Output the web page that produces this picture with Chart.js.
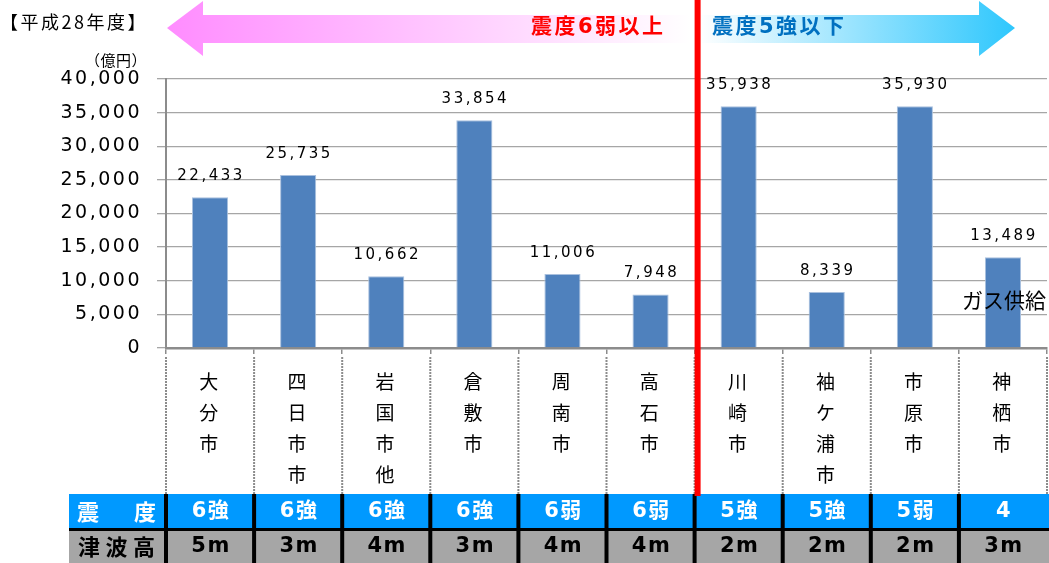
<!DOCTYPE html>
<html lang="ja">
<head>
<meta charset="utf-8">
<title>震度・津波高別 製造品出荷額</title>
<script src="https://cdn.jsdelivr.net/npm/chart.js@4.4.0/dist/chart.umd.min.js"></script>
<style>
  html, body { margin: 0; padding: 0; background: #fff; }
  .wrap { position: relative; width: 1049px; height: 563px; }
</style>
</head>
<body>
<div class="wrap"><canvas id="chart"></canvas></div>
<script>
// データ
const cities = ['大分市', '四日市市', '岩国市他', '倉敷市', '周南市', '高石市', '川崎市', '袖ケ浦市', '市原市', '神栖市'];
const amounts = [22433, 25735, 10662, 33854, 11006, 7948, 35938, 8339, 35930, 13489];
const shindo = ['6強', '6強', '6強', '6強', '6弱', '6弱', '5強', '5強', '5弱', '4'];
const tsunami = ['5m', '3m', '4m', '3m', '4m', '4m', '2m', '2m', '2m', '3m'];
const yMax = 40000;
const yStep = 5000;
const splitIndex = 6; // 震度6弱以上 / 5強以下 の境目
const noteIndex = 9;  // 「ガス供給」の注記

const title = '【平成28年度】';
const unit = '（億円）';
const leftArrowText = '震度6弱以上';
const rightArrowText = '震度5強以下';
const noteText = 'ガス供給';

const numFont = '"DejaVu Sans", "Noto Sans CJK JP", sans-serif';
const jpFont = '"Noto Sans CJK JP", sans-serif';

// 各列の境界のx座標
function columnEdges(x) {
  const half = (x.getPixelForValue(1) - x.getPixelForValue(0)) / 2;
  const edges = cities.map((c, i) => x.getPixelForValue(i) - half);
  edges.push(x.getPixelForValue(cities.length - 1) + half);
  return edges;
}

function drawArrow(ctx, x0, x1, dir, c0, c1) {
  // dir: -1 = 左向き, 1 = 右向き
  const headW = 36;
  const grad = ctx.createLinearGradient(x0, 0, x1, 0);
  grad.addColorStop(0, c0);
  grad.addColorStop(1, c1);
  ctx.fillStyle = grad;
  ctx.beginPath();
  if (dir < 0) {
    ctx.moveTo(x0, 28);
    ctx.lineTo(x0 + headW, 1);
    ctx.lineTo(x0 + headW, 15);
    ctx.lineTo(x1, 15);
    ctx.lineTo(x1, 43);
    ctx.lineTo(x0 + headW, 43);
    ctx.lineTo(x0 + headW, 56);
  } else {
    ctx.moveTo(x1, 28);
    ctx.lineTo(x1 - headW, 1);
    ctx.lineTo(x1 - headW, 15);
    ctx.lineTo(x0, 15);
    ctx.lineTo(x0, 43);
    ctx.lineTo(x1 - headW, 43);
    ctx.lineTo(x1 - headW, 56);
  }
  ctx.closePath();
  ctx.fill();
}

const spacingPlugin = {
  id: 'spacing',
  beforeDraw(chart) { chart.ctx.letterSpacing = '2.5px'; },
  beforeDatasetsDraw(chart) { chart.ctx.letterSpacing = '0px'; }
};

const extrasPlugin = {
  id: 'extras',
  afterDatasetsDraw(chart) {
    const ctx = chart.ctx;
    const meta = chart.getDatasetMeta(0);
    ctx.save();
    // 値ラベル
    ctx.font = '15px ' + numFont;
    ctx.letterSpacing = '2.5px';
    ctx.fillStyle = '#000';
    ctx.textAlign = 'center';
    ctx.textBaseline = 'middle';
    meta.data.forEach((bar, i) => {
      ctx.fillText(amounts[i].toLocaleString('en-US'), bar.x + 1, bar.y - 21);
    });
    // ガス供給
    ctx.letterSpacing = '0px';
    ctx.font = '21px ' + jpFont;
    const nb = meta.data[noteIndex];
    ctx.fillText(noteText, nb.x + 1, 300);
    ctx.restore();
  },
  afterDraw(chart) {
    const ctx = chart.ctx;
    const x = chart.scales.x;
    const edges = columnEdges(x);
    const splitX = edges[splitIndex];
    const tTop = 494, tMid = 528, tBot = 563, tLeft = 69;
    ctx.save();

    // タイトルと単位
    ctx.fillStyle = '#000';
    ctx.textBaseline = 'middle';
    ctx.textAlign = 'left';
    ctx.font = '18px ' + jpFont;
    ctx.letterSpacing = '2.5px';
    ctx.fillText(title, 0, 22);
    ctx.font = '15px ' + jpFont;
    ctx.letterSpacing = '0.5px';
    ctx.fillText(unit, 85, 60);

    // 上部の矢印
    drawArrow(ctx, 167, splitX - 4, -1, '#ff8cff', '#ffffff');
    drawArrow(ctx, splitX + 4, 1015, 1, '#ffffff', '#2ec7fd');
    ctx.font = 'bold 21px ' + numFont;
    ctx.letterSpacing = '2.5px';
    ctx.fillStyle = '#ff0000';
    ctx.fillText(leftArrowText, 531, 28);
    ctx.fillStyle = '#0070c0';
    ctx.fillText(rightArrowText, 712, 28);
    ctx.letterSpacing = '0px';

    // ラベル欄の点線
    ctx.strokeStyle = '#8c8c8c';
    ctx.lineWidth = 2;
    ctx.setLineDash([2, 1]);
    edges.forEach(ex => {
      ctx.beginPath();
      ctx.moveTo(ex, 357);
      ctx.lineTo(ex, tTop);
      ctx.stroke();
    });
    ctx.setLineDash([]);

    // 表
    ctx.fillStyle = '#0099ff';
    ctx.fillRect(tLeft, tTop, 1049 - tLeft, tMid - tTop);
    ctx.fillStyle = '#a6a6a6';
    ctx.fillRect(tLeft, tMid, 1049 - tLeft, tBot - tMid);
    ctx.fillStyle = '#000';
    ctx.fillRect(tLeft, tMid, 1049 - tLeft, 3);
    edges.slice(0, cities.length).forEach(ex => {
      ctx.fillRect(ex - 2, tTop, 4, tBot - tTop);
    });

    ctx.textAlign = 'center';
    ctx.font = 'bold 22px ' + jpFont;
    ctx.fillStyle = '#fff';
    ctx.fillText('震', 88, 512);
    ctx.fillText('度', 145, 512);
    ctx.fillStyle = '#000';
    ['津', '波', '高'].forEach((ch, i) => ctx.fillText(ch, 89 + i * 27.5, 547));

    ctx.font = 'bold 21px ' + numFont;
    ctx.letterSpacing = '1.5px';
    cities.forEach((c, i) => {
      const cx = (edges[i] + edges[i + 1]) / 2 + 1;
      ctx.fillStyle = '#fff';
      ctx.fillText(shindo[i], cx, 512);
      ctx.fillStyle = '#000';
      ctx.fillText(tsunami[i], cx, 547);
    });
    ctx.letterSpacing = '0px';

    // 赤の境界線
    ctx.fillStyle = '#ff0000';
    ctx.fillRect(splitX, 0, 6, 496);
    ctx.restore();
  }
};

new Chart(document.getElementById('chart'), {
  type: 'bar',
  data: {
    labels: cities.map(c => c.split('')),
    datasets: [{
      data: amounts,
      backgroundColor: '#4f81bd',
      borderColor: '#a9c0de',
      borderWidth: 1,
      barPercentage: 0.41,
      categoryPercentage: 1
    }]
  },
  options: {
    responsive: true,
    maintainAspectRatio: false,
    animation: false,
    devicePixelRatio: 1,
    layout: { padding: { left: 0, top: 79, right: 2, bottom: 68 } },
    plugins: { legend: { display: false }, tooltip: { enabled: false } },
    scales: {
      x: {
        afterFit(scale) { scale.height = 147; },
        grid: { drawOnChartArea: false, tickLength: 6, color: '#8c8c8c', lineWidth: 1.5 },
        border: { color: '#8c8c8c', width: 2.5 },
        ticks: {
          color: '#000',
          padding: 12,
          maxRotation: 0,
          autoSkip: false,
          font: { family: jpFont, size: 19, lineHeight: '31px' }
        }
      },
      y: {
        min: 0,
        max: yMax,
        afterFit(scale) { scale.width = 166; },
        grid: { color: '#a6a6a6', lineWidth: 1.3, tickLength: 9 },
        border: { color: '#8c8c8c', width: 2 },
        ticks: {
          stepSize: yStep,
          color: '#000',
          padding: 15,
          font: { family: numFont, size: 19 },
          callback: v => v.toLocaleString('en-US')
        }
      }
    }
  },
  plugins: [spacingPlugin, extrasPlugin]
});
</script>
</body>
</html>
